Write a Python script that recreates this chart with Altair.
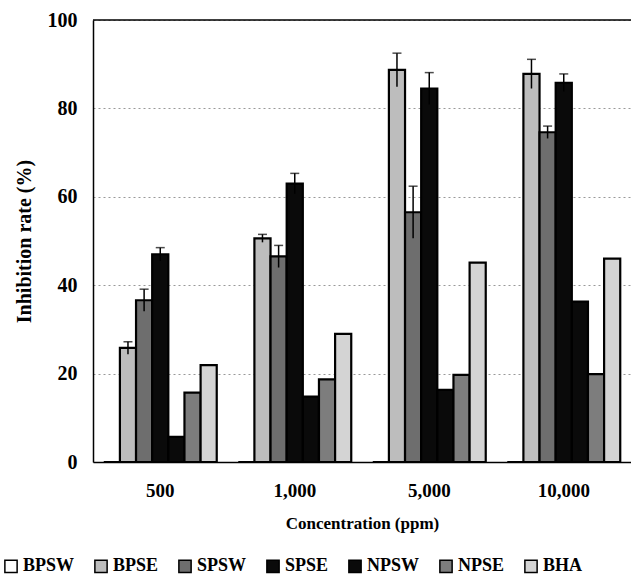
import altair as alt
import pandas as pd

conc = ["500", "1,000", "5,000", "10,000"]
series = ["BPSW", "BPSE", "SPSW", "SPSE", "NPSW", "NPSE", "BHA"]
values = {
    "BPSW": [0, 0, 0, 0],
    "BPSE": [25.8, 50.6, 88.7, 87.8],
    "SPSW": [36.6, 46.5, 56.5, 74.6],
    "SPSE": [47.0, 63.0, 84.5, 85.8],
    "NPSW": [5.7, 14.8, 16.3, 36.3],
    "NPSE": [15.7, 18.7, 19.7, 19.9],
    "BHA": [21.9, 29.0, 45.1, 46.0],
}
errors = {
    "BPSE": [1.4, 0.9, 3.8, 3.3],
    "SPSW": [2.5, 2.5, 5.9, 1.4],
    "SPSE": [1.5, 2.3, 3.6, 2.0],
}
fills = ["#ffffff", "#bdbdbd", "#6e6e6e", "#0a0a0a", "#0a0a0a", "#7d7d7d", "#d4d4d4"]

rows = []
for s in series:
    for i, c in enumerate(conc):
        e = errors.get(s, [None] * 4)[i]
        rows.append({
            "conc": c, "series": s, "value": values[s][i],
            "lo": values[s][i] - e if e is not None else None,
            "hi": values[s][i] + e if e is not None else None,
        })
df = pd.DataFrame(rows)
err_df = df.dropna(subset=["hi"])

FONT = "Liberation Serif"

x_enc = alt.X("conc:N", sort=conc,
              scale=alt.Scale(paddingInner=0.16, paddingOuter=0.08),
              axis=alt.Axis(title="Concentration (ppm)", labelAngle=0, ticks=False,
                            labelFontSize=19, titleFontSize=17,
                            labelPadding=19, titlePadding=15, domainColor="black",
                            domainWidth=1.5))
xo_enc = alt.XOffset("series:N", sort=series)
y_scale = alt.Scale(domain=[0, 100])

bars = alt.Chart(df).mark_bar(stroke="black", strokeWidth=2.2).encode(
    x=x_enc,
    xOffset=xo_enc,
    y=alt.Y("value:Q", scale=y_scale,
            axis=alt.Axis(title="Inhibition rate (%)", values=[0, 20, 40, 60, 80, 100],
                          ticks=False, labelPadding=16, titlePadding=13,
                          labelFontSize=20, titleFontSize=20,
                          grid=True, gridColor="#999999", gridDash=[2, 3],
                          gridWidth=1, domainColor="black", domainWidth=1.5)),
    fill=alt.Fill("series:N", sort=series,
                  scale=alt.Scale(domain=series, range=fills),
                  legend=alt.Legend(title=None, orient="none", direction="horizontal",
                                    legendX=-91, legendY=537, symbolType="square",
                                    symbolSize=150, symbolStrokeColor="black",
                                    symbolStrokeWidth=1.5, labelFontSize=18,
                                    labelFont=FONT, labelFontWeight="bold",
                                    labelColor="black", labelOffset=3,
                                    columnPadding=16)),
)

rules = alt.Chart(err_df).mark_rule(color="black", strokeWidth=1.5).encode(
    x=alt.X("conc:N", sort=conc),
    xOffset=xo_enc,
    y=alt.Y("lo:Q", scale=y_scale),
    y2="hi:Q",
)
caps = alt.Chart(err_df).mark_tick(color="black", thickness=1.5, size=9).encode(
    x=alt.X("conc:N", sort=conc),
    xOffset=xo_enc,
    y=alt.Y("hi:Q", scale=y_scale),
)
top = alt.Chart(pd.DataFrame({"y": [100]})).mark_rule(color="black", strokeWidth=1.5).encode(
    y=alt.Y("y:Q", scale=y_scale)
)

chart = alt.layer(bars, rules, caps, top).properties(
    width=538, height=442,
    background="white",
    autosize=alt.AutoSizeParams(type="none"),
    padding={"left": 93, "top": 20, "right": 0, "bottom": 117},
).configure_view(stroke=None).configure_axis(
    labelFont=FONT, labelFontWeight="bold", labelColor="black",
    titleFont=FONT, titleFontWeight="bold", titleColor="black",
).configure_legend(
    labelFont=FONT, labelFontWeight="bold", labelColor="black", labelFontSize=18,
)

chart.save("out.html", embed_options={"renderer": "svg", "actions": False})
